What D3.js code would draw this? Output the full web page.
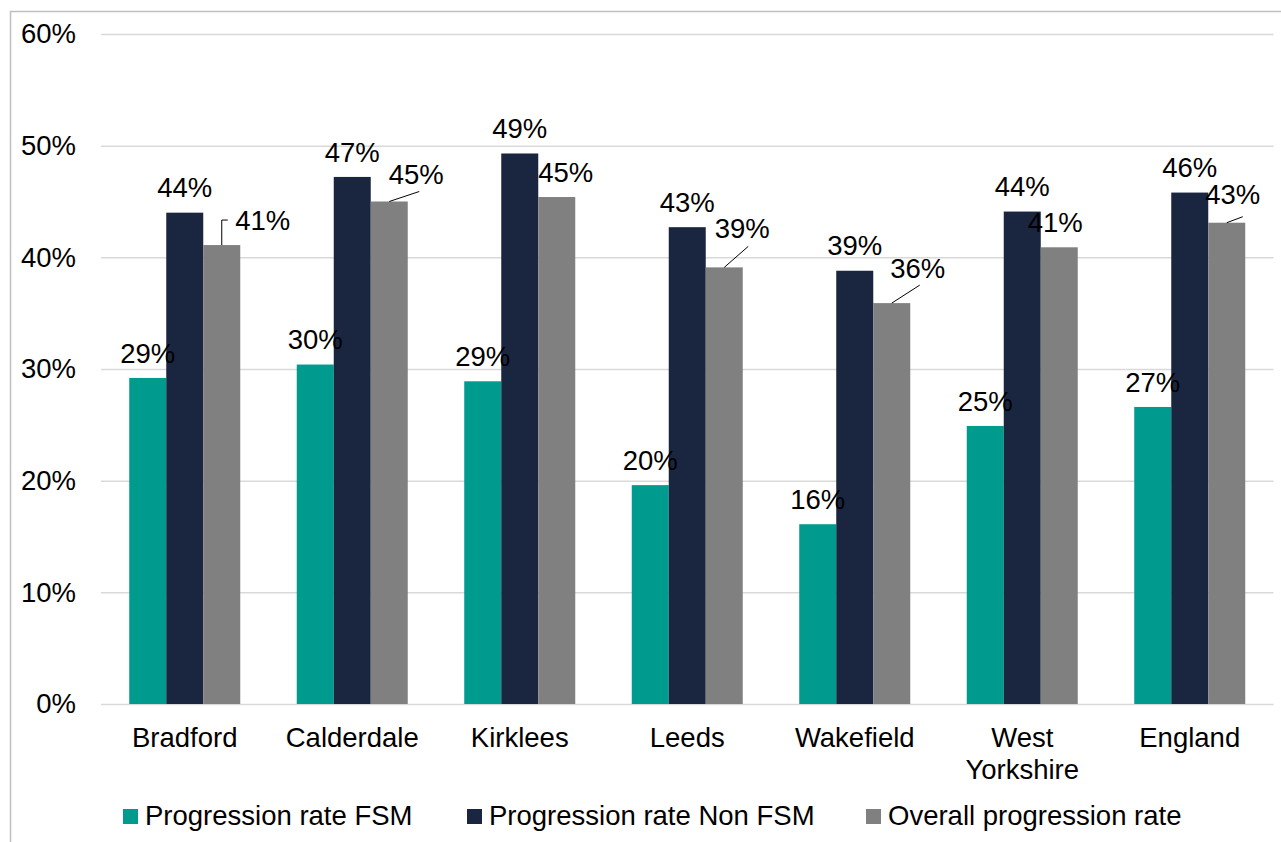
<!DOCTYPE html>
<html>
<head>
<meta charset="utf-8">
<script src="https://cdn.jsdelivr.net/npm/d3@7"></script>
<style>
  html, body { margin: 0; padding: 0; background: #fff; }
  svg { display: block; font-family: Arial, "Liberation Sans", sans-serif; }
</style>
</head>
<body>
<svg id="chart" width="1281" height="842"></svg>
<script>
const categories = ["Bradford", "Calderdale", "Kirklees", "Leeds", "Wakefield", "West Yorkshire", "England"];
const seriesNames = ["Progression rate FSM", "Progression rate Non FSM", "Overall progression rate"];
const fsm     = [29.2, 30.4, 28.9, 19.6, 16.1, 24.9, 26.6];
const nonFsm  = [44.0, 47.2, 49.3, 42.7, 38.8, 44.1, 45.8];
const overall = [41.1, 45.0, 45.4, 39.1, 35.9, 40.9, 43.1];
const yTicks  = [0, 10, 20, 30, 40, 50, 60];

const colors = ["#009B8F", "#1A2640", "#808080"];
const seriesValues = [fsm, nonFsm, overall];
const FS = 27.5;

// label nudges for overall series (dx, dy, leader type)
const overallNudge = [
  {dx: 41, dy: 0, leader: "elbow"},
  {dx: 27, dy: -2, leader: "line", lx: 30, ly: -10},
  {dx: 9, dy: 0},
  {dx: 18, dy: -14, leader: "line", lx: 24, ly: -21},
  {dx: 26, dy: -10, leader: "line", lx: 28, ly: -18},
  {dx: -4, dy: 0},
  {dx: 6, dy: -3, leader: "line", lx: 16, ly: -6}
];

const svg = d3.select("#chart");

// outer frame
svg.append("rect")
  .attr("x", 10.5).attr("y", 11.5)
  .attr("width", 1400).attr("height", 1000)
  .attr("fill", "none").attr("stroke", "#bfbfbf").attr("stroke-width", 1.5);

const plot = {left: 101, right: 1273.5, top: 34, bottom: 704};

const x0 = d3.scaleBand().domain(categories).range([plot.left, plot.right]).paddingInner(0).paddingOuter(0);
const groupW = 111;
const x1 = d3.scaleBand().domain(d3.range(3)).range([0, groupW]).padding(0);
const y = d3.scaleLinear().domain([0, 60]).range([plot.bottom, plot.top]);

// gridlines
const grid = d3.axisLeft(y).tickValues(yTicks).tickSize(-(plot.right - plot.left)).tickFormat("");
const gG = svg.append("g").attr("transform", `translate(${plot.left},0)`).call(grid);
gG.select(".domain").remove();
gG.selectAll("line").attr("stroke", "#d9d9d9").attr("stroke-width", 1.5);

// y axis labels
const yAx = d3.axisLeft(y).tickValues(yTicks).tickSize(0).tickPadding(0).tickFormat(d => d + "%");
const yG = svg.append("g").attr("transform", `translate(76,0)`).call(yAx);
yG.select(".domain").remove();
yG.selectAll("text").attr("font-size", FS).attr("fill", "#000").attr("font-family", "Arial, 'Liberation Sans', sans-serif");

// bars
const groups = svg.append("g").selectAll("g").data(categories).join("g")
  .attr("transform", d => `translate(${x0(d) + (x0.bandwidth() - groupW) / 2},0)`);

seriesValues.forEach((vals, s) => {
  groups.append("rect")
    .attr("x", x1(s))
    .attr("width", x1.bandwidth())
    .attr("y", (d, i) => y(vals[i]))
    .attr("height", (d, i) => y(0) - y(vals[i]))
    .attr("fill", colors[s]);
});

// data labels
seriesValues.forEach((vals, s) => {
  groups.each(function(d, i) {
    const g = d3.select(this);
    const cx = x1(s) + x1.bandwidth() / 2;
    const top = y(vals[i]);
    let tx = cx, ty = top - 25;
    if (s === 2) {
      const n = overallNudge[i];
      tx += n.dx; ty += n.dy;
      if (n.leader === "elbow") {
        g.append("path")
          .attr("d", `M${cx},${top} V${ty} H${cx + 6}`)
          .attr("fill", "none").attr("stroke", "#000").attr("stroke-width", 1);
      } else if (n.leader === "line") {
        g.append("line")
          .attr("x1", cx).attr("y1", top)
          .attr("x2", cx + n.lx).attr("y2", top + n.ly)
          .attr("stroke", "#000").attr("stroke-width", 1);
      }
    }
    g.append("text")
      .attr("x", tx).attr("y", ty)
      .attr("dy", "0.35em")
      .attr("text-anchor", "middle")
      .attr("font-size", FS)
      .attr("fill", "#000")
      .text(Math.round(vals[i]) + "%");
  });
});

// x axis category labels
const xAx = svg.append("g");
categories.forEach(c => {
  const words = c.split(" ");
  const t = xAx.append("text")
    .attr("x", x0(c) + x0.bandwidth() / 2)
    .attr("y", 747)
    .attr("text-anchor", "middle")
    .attr("font-size", FS)
    .attr("fill", "#000");
  words.forEach((w, k) => {
    t.append("tspan").attr("x", x0(c) + x0.bandwidth() / 2).attr("dy", k === 0 ? 0 : 32).text(w);
  });
});

// legend
const legend = svg.append("g");
const starts = [123, 467, 866];
seriesNames.forEach((name, s) => {
  legend.append("rect")
    .attr("x", starts[s]).attr("y", 809)
    .attr("width", 15).attr("height", 15)
    .attr("fill", colors[s]);
  legend.append("text")
    .attr("x", starts[s] + 22).attr("y", 825)
    .attr("font-size", FS)
    .attr("fill", "#000")
    .text(name);
});
</script>
</body>
</html>
